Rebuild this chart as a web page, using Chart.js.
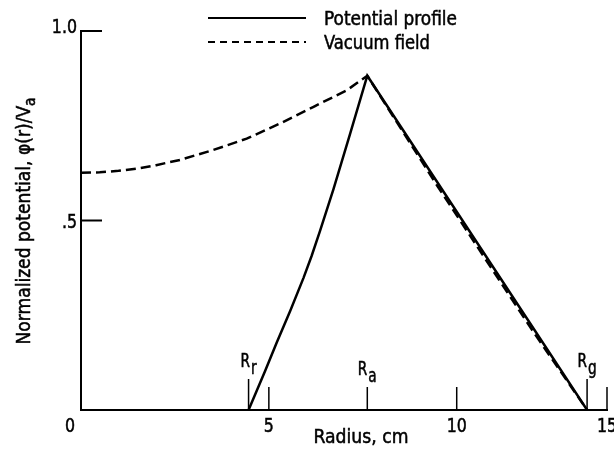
<!DOCTYPE html>
<html><head><meta charset="utf-8">
<script src="https://cdn.jsdelivr.net/npm/chart.js@4.4.0/dist/chart.umd.min.js"></script>
<style>html,body{margin:0;padding:0;background:#fff}#wrap{width:614px;height:458px}canvas{display:block}</style>
</head><body><div id="wrap"><canvas id="c" width="614" height="458"></canvas></div>
<script>
// ---- data ----
const seriesNames = ['Potential profile', 'Vacuum field'];
const profileR = [4.46, 4.90, 5.21, 5.57, 5.92, 6.14, 6.36, 6.72, 7.16, 7.62, 13.47];
const profileV = [0, 0.103, 0.178, 0.262, 0.348, 0.407, 0.472, 0.583, 0.728, 0.882, 0];
const vacuumR = [0, 0.5, 1.0, 1.5, 2.0, 2.64, 3.52, 4.41, 5.30, 6.19, 7.08, 7.62, 9.5, 12.0, 13.47];
const vacuumV = [0.626, 0.627, 0.631, 0.637, 0.646, 0.660, 0.686, 0.716, 0.756, 0.800, 0.844, 0.882, 0.589, 0.212, 0];
const xTickValues = [0, 5, 10, 14];
const xTickLabels = ['0', '5', '10', '15'];
const yTickValues = [0.5, 1.0];
const yTickLabels = ['.5', '1.0'];
const markerSubs = ['r', 'a', 'g'];
const markerRadii = [4.46, 7.62, 13.47];
const xTitle = 'Radius, cm';
const yTitleMain = 'Normalized potential, \u03c6(r)/V';
const yTitleSub = 'a';

const FONT = '"DejaVu Sans Condensed", "Liberation Sans Narrow", "DejaVu Sans", sans-serif';

const toPts = (xs, ys) => xs.map((x, i) => ({x: x, y: ys[i]}));

function txt(ctx, s, x, y, size, width, align, scale) {
  ctx.font = size + 'px ' + FONT;
  const w = ctx.measureText(s).width;
  const sx = width ? width / w : (scale || 0.88);
  ctx.save();
  ctx.translate(x, y);
  ctx.scale(sx, 1);
  const dx = align === 'center' ? -w / 2 : (align === 'right' ? -w : 0);
  ctx.textAlign = 'left';
  ctx.textBaseline = 'alphabetic';
  ctx.fillText(s, dx, 0);
  ctx.lineWidth = 0.5;
  ctx.strokeText(s, dx, 0);
  ctx.restore();
  return w * sx;
}

const decor = {
  id: 'decor',
  afterDraw(chart) {
    const ctx = chart.ctx;
    const xs = chart.scales.x, ys = chart.scales.y;
    const x0 = xs.getPixelForValue(0), y0 = ys.getPixelForValue(0);
    const xEnd = xs.getPixelForValue(xTickValues[xTickValues.length - 1]);
    const yTop = ys.getPixelForValue(1);
    ctx.save();
    ctx.strokeStyle = '#000';
    ctx.fillStyle = '#000';
    ctx.lineCap = 'butt';
    // axes
    ctx.lineWidth = 2;
    ctx.beginPath();
    ctx.moveTo(x0, yTop - 1); ctx.lineTo(x0, y0 + 1);
    ctx.moveTo(x0 - 1, y0); ctx.lineTo(xEnd + 1, y0);
    ctx.stroke();
    // y ticks
    yTickValues.forEach(v => {
      const py = ys.getPixelForValue(v);
      ctx.beginPath(); ctx.moveTo(x0, py); ctx.lineTo(x0 + 21, py); ctx.stroke();
    });
    // x ticks
    ctx.lineWidth = 1.5;
    xTickValues.forEach(v => {
      if (v === 0) return;
      const px = xs.getPixelForValue(v);
      ctx.beginPath(); ctx.moveTo(px, y0); ctx.lineTo(px, y0 - 23); ctx.stroke();
    });
    // tick labels
    xTickValues.forEach((v, i) => {
      let px = xs.getPixelForValue(v);
      if (v === 0) px -= 11;
      txt(ctx, xTickLabels[i], px, y0 + 22, 20, 0, 'center');
    });
    yTickValues.forEach((v, i) => {
      const py = ys.getPixelForValue(v);
      txt(ctx, yTickLabels[i], x0 - 4, py + (v === 1 ? 2 : 7), 20, 0, 'right');
    });
    // radius markers
    const tall = [31, 23, 31];
    const ms = 0.8;
    markerRadii.forEach((r, i) => {
      const px = xs.getPixelForValue(r);
      ctx.lineWidth = 1.5;
      ctx.beginPath(); ctx.moveTo(px, y0); ctx.lineTo(px, y0 - tall[i]); ctx.stroke();
      ctx.font = '19px ' + FONT;
      const wR = ctx.measureText('R').width * ms;
      const wS = ctx.measureText(markerSubs[i]).width * ms;
      const left = px - (wR + wS + 1) / 2;
      const base = y0 - tall[i] - 12;
      txt(ctx, 'R', left, base, 19, 0, 'left', ms);
      txt(ctx, markerSubs[i], left + wR + 1, base + 7, 19, 0, 'left', ms);
    });
    // legend
    const lg = [{y: 18, dash: [], w: 133}, {y: 42, dash: [7, 5], w: 106}];
    lg.forEach((l, i) => {
      ctx.lineWidth = 2;
      ctx.setLineDash(l.dash);
      ctx.beginPath(); ctx.moveTo(208, l.y); ctx.lineTo(306, l.y); ctx.stroke();
      ctx.setLineDash([]);
      txt(ctx, seriesNames[i], 324, l.y + 7, 20, l.w, 'left');
    });
    // x title
    txt(ctx, xTitle, 361, 443, 20, 95, 'center');
    // y title
    ctx.save();
    ctx.translate(30, 221);
    ctx.rotate(-Math.PI / 2);
    ctx.font = '20px ' + FONT;
    const wMain = ctx.measureText(yTitleMain).width;
    ctx.font = '16px ' + FONT;
    const wSub = ctx.measureText(yTitleSub).width;
    const k = 247 / (wMain + wSub);
    const start = -247 / 2;
    txt(ctx, yTitleMain, start, 0, 20, wMain * k, 'left');
    txt(ctx, yTitleSub, start + wMain * k, 5, 16, wSub * k, 'left');
    ctx.restore();
    ctx.restore();
  }
};

new Chart(document.getElementById('c'), {
  type: 'scatter',
  data: {
    datasets: [
      {label: seriesNames[1], data: toPts(vacuumR, vacuumV), showLine: true, borderColor: '#000',
       borderWidth: 2.5, borderDash: [10, 5], pointRadius: 0, tension: 0, fill: false},
      {label: seriesNames[0], data: toPts(profileR, profileV), showLine: true, borderColor: '#000',
       borderWidth: 2.5, pointRadius: 0, tension: 0, fill: false}
    ]
  },
  options: {
    responsive: false,
    animation: false,
    layout: {padding: {left: 81, right: 7, top: 31, bottom: 48}},
    scales: {
      x: {type: 'linear', min: 0, max: 14, display: false},
      y: {type: 'linear', min: 0, max: 1, display: false}
    },
    plugins: {legend: {display: false}, tooltip: {enabled: false}},
    events: []
  },
  plugins: [decor]
});
</script>
</body></html>
